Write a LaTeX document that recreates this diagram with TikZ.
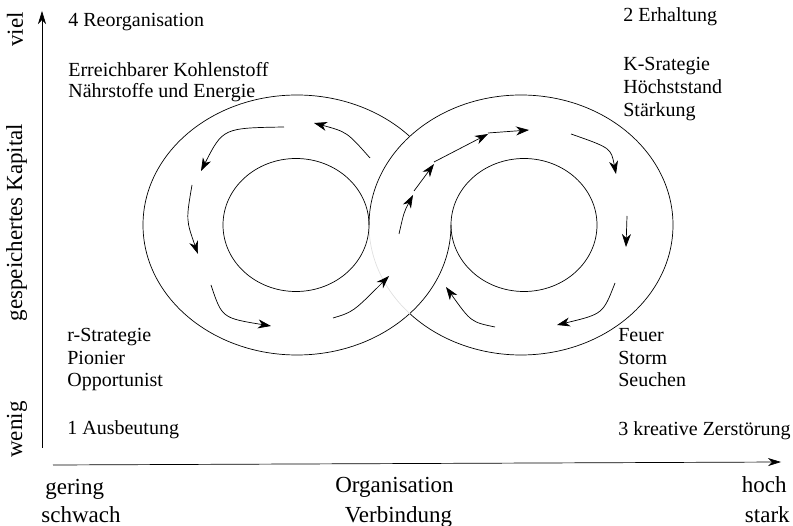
\documentclass[tikz,border=0pt]{standalone}
\usepackage{fontspec}
\setmainfont{Liberation Serif}
\usetikzlibrary{arrows.meta}
\begin{document}
\begin{tikzpicture}[x=1pt,y=-1pt,line width=0.7pt,
  flow/.style={-{Stealth[length=13pt,width=9pt,inset=4pt]},line width=0.7pt},
  axis/.style={-{Stealth[length=13pt,width=8pt,inset=4pt]},line width=0.7pt},
  lab/.style={anchor=base west,inner sep=0pt,font=\fontsize{20}{24}\selectfont},
  axlab/.style={inner sep=0pt,font=\fontsize{23}{28}\selectfont}]
\useasboundingbox (0,0) rectangle (793,526);
% axes
\coordinate (yb) at (42,448);
\coordinate (yt) at (42,11);
\coordinate (xl) at (53,465);
\coordinate (xr) at (781,462);
\draw[axis] (yb) -- (yt);
\draw[axis] (xl) -- (xr);
% rings
\draw (451,225) arc[start angle=0,end angle=316.9,x radius=154,y radius=130];
\draw (369,225) arc[start angle=180,end angle=496.9,x radius=152,y radius=130];
\draw[black!12] (369,225) arc[start angle=180,end angle=136.9,x radius=152,y radius=130];
\draw (296,225) ellipse[x radius=73,y radius=66.5];
\draw (524,225) ellipse[x radius=73,y radius=66.5];
% flow arrows left ring
\draw[flow] (370,158) .. controls (347,132) .. (314,123);
\draw[flow] (284,127) .. controls (223,128) .. (201,171);
\draw[flow] (192,185) .. controls (186,220) .. (198,254);
\draw[flow] (211,285) .. controls (222,318) .. (271,326);
\draw[flow] (333,318) .. controls (353,312) .. (389,276);
% channel
\draw[flow] (399,234) .. controls (404,212) .. (413,195);
\draw[flow] (414,191) -- (434,164);
\draw[flow] (434,162) -- (488,134);
\draw[flow] (488,133) -- (529,130);
% right ring
\draw[flow] (571,134) .. controls (611,148) .. (616,174);
\draw[flow] (627,216) -- (626,247);
\draw[flow] (615,283) .. controls (603,314) .. (557,325);
\draw[flow] (495,327) .. controls (471,322) .. (446,287);
% texts
\node[lab] (t4) at (68,27) {4 Reorganisation};
\node[lab] (t4a) at (68,77) {Erreichbarer Kohlenstoff};
\node[lab] (t4b) at (68,98) {Nährstoffe und Energie};
\node[lab] (t2) at (623,22) {2 Erhaltung};
\node[lab] (t2a) at (623,71) {K-Srategie};
\node[lab] (t2b) at (623,94) {Höchststand};
\node[lab] (t2c) at (623,117) {Stärkung};
\node[lab] (t1a) at (67,342) {r-Strategie};
\node[lab] (t1b) at (67,365) {Pionier};
\node[lab] (t1c) at (67,387) {Opportunist};
\node[lab] (t1) at (67,435) {1 Ausbeutung};
\node[lab] (t3a) at (618,342) {Feuer};
\node[lab] (t3b) at (618,365) {Storm};
\node[lab] (t3c) at (618,387) {Seuchen};
\node[lab] (t3) at (618,436) {3 kreative Zerstörung};
% axis labels
\node[axlab,rotate=90,anchor=base west] (viel) at (23,47) {viel};
\node[axlab,rotate=90,anchor=base] (kap) at (22,222.5) {gespeichertes Kapital};
\node[axlab,rotate=90,anchor=base west] (wenig) at (22,458) {wenig};
\node[axlab,anchor=base west] (gering) at (45,495) {gering};
\node[axlab,anchor=base west] (schwach) at (41,522) {schwach};
\node[axlab,anchor=base] (org) at (394.5,493) {Organisation};
\node[axlab,anchor=base] (verb) at (398.5,522) {Verbindung};
\node[axlab,anchor=base east] (hoch) at (787,493) {hoch};
\node[axlab,anchor=base east] (stark) at (790,522) {stark};
\end{tikzpicture}
\end{document}
